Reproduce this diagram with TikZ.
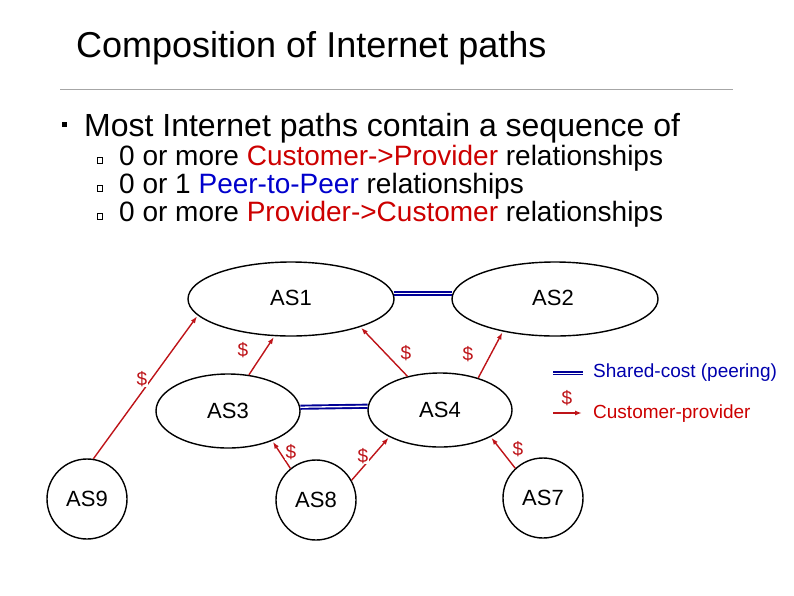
\documentclass[tikz,border=0pt]{standalone}
\usepackage{fontspec}
\setmainfont{Liberation Sans}
\usetikzlibrary{shapes.geometric,arrows.meta}
\definecolor{arrred}{RGB}{190,20,25}
\definecolor{txtred}{RGB}{204,0,0}
\definecolor{txtblue}{RGB}{0,0,204}
\definecolor{peerblue}{RGB}{0,0,150}
\begin{document}
\begin{tikzpicture}[x=1pt,y=-1pt,
  asnode/.style={draw=black, line width=1.4pt, ellipse, inner sep=0pt,
    font=\fontsize{22}{26}\selectfont},
  bigoval/.style={asnode, minimum width=206pt, minimum height=74pt},
  smalloval/.style={asnode, minimum width=144pt, minimum height=74pt},
  ascircle/.style={asnode, minimum width=80pt, minimum height=80pt},
  provarrow/.style={draw=arrred, line width=1.4pt, -{Latex[length=7pt,width=5pt]}, shorten >=1pt},
  peer/.style={draw=peerblue, line width=1.9pt, double=white, double distance=1.3pt},
  dollar/.style={text=arrred, fill=white, inner sep=0.5pt, font=\fontsize{19}{21}\selectfont},
  txt/.style={anchor=base west, inner sep=0pt}
]
\useasboundingbox (0,0) rectangle (794,595);

% title and rule
\node[txt, font=\fontsize{36}{40}\selectfont] (title) at (76,57) {Composition of Internet paths};
\coordinate (ruleA) at (60,89);
\coordinate (ruleB) at (733,89);
\draw[gray!70, line width=0.8pt] (ruleA) -- (ruleB);

% bullets
\fill (61.5,121.5) rectangle (67,127);
\node[txt, font=\fontsize{32}{36}\selectfont] (b1) at (84,136.5) {Most Internet paths contain a sequence of};
\draw[line width=0.7pt] (97.5,157.5) rectangle (102,163);
\draw[line width=0.7pt] (97.5,185.5) rectangle (102,191);
\draw[line width=0.7pt] (97.5,213.5) rectangle (102,219);
\node[txt, font=\fontsize{28}{32}\selectfont] (s1) at (119,165) {0 or more \textcolor{txtred}{Customer->Provider} relationships};
\node[txt, font=\fontsize{28}{32}\selectfont] (s2) at (119,193) {0 or 1 \textcolor{txtblue}{Peer-to-Peer} relationships};
\node[txt, font=\fontsize{28}{32}\selectfont] (s3) at (119,221) {0 or more \textcolor{txtred}{Provider->Customer} relationships};

% AS nodes
\node[bigoval] (as1) at (291,299) {};
\node[font=\fontsize{22}{26}\selectfont] at (291,298) {AS1};
\node[bigoval] (as2) at (555,299) {};
\node[font=\fontsize{22}{26}\selectfont] at (553,298) {AS2};
\node[smalloval] (as3) at (228,411) {AS3};
\node[smalloval] (as4) at (440,410) {AS4};
\node[ascircle] (as9) at (87,499) {AS9};
\node[ascircle] (as8) at (316,500) {AS8};
\node[ascircle] (as7) at (543,498) {AS7};

% peering links
\draw[peer] (as1.3) -- (as2.177);
\draw[peer] (as3.3.8) -- (as4.177);

% customer-provider links
\draw[provarrow] (as9.81) -- (as1.190);
\draw[provarrow] (as3.60) -- (as1.246);
\draw[provarrow] (as4.134) -- (as1.338);
\draw[provarrow] (as4.40) -- (as2.212);
\draw[provarrow] (as8.129) -- (as3.326);
\draw[provarrow] (as8.29) -- (as4.208);
\draw[provarrow] (as7.133) -- (as4.332);

% dollar labels
\node[dollar] (d1) at (142,379) {\$};
\node[dollar] (d2) at (243,350) {\$};
\node[dollar] (d3) at (406,353) {\$};
\node[dollar] (d4) at (468,354) {\$};
\node[dollar] (d5) at (291,452) {\$};
\node[dollar] (d6) at (363,456) {\$};
\node[dollar] (d7) at (518,449) {\$};

% legend
\coordinate (lgA) at (553,373);
\coordinate (lgB) at (583,373);
\draw[peer, line width=1.4pt, double distance=1pt] (lgA) -- (lgB);
\node[txt, text=txtblue!85!black, font=\fontsize{19}{22}\selectfont] (lgt1) at (593,377) {Shared-cost (peering)};
\coordinate (lgC) at (553,413);
\coordinate (lgD) at (583,413);
\draw[provarrow] (lgC) -- (lgD);
\node[dollar] (d8) at (567,398) {\$};
\node[txt, text=txtred, font=\fontsize{19}{22}\selectfont] (lgt2) at (593,418) {Customer-provider};
\end{tikzpicture}
\end{document}
